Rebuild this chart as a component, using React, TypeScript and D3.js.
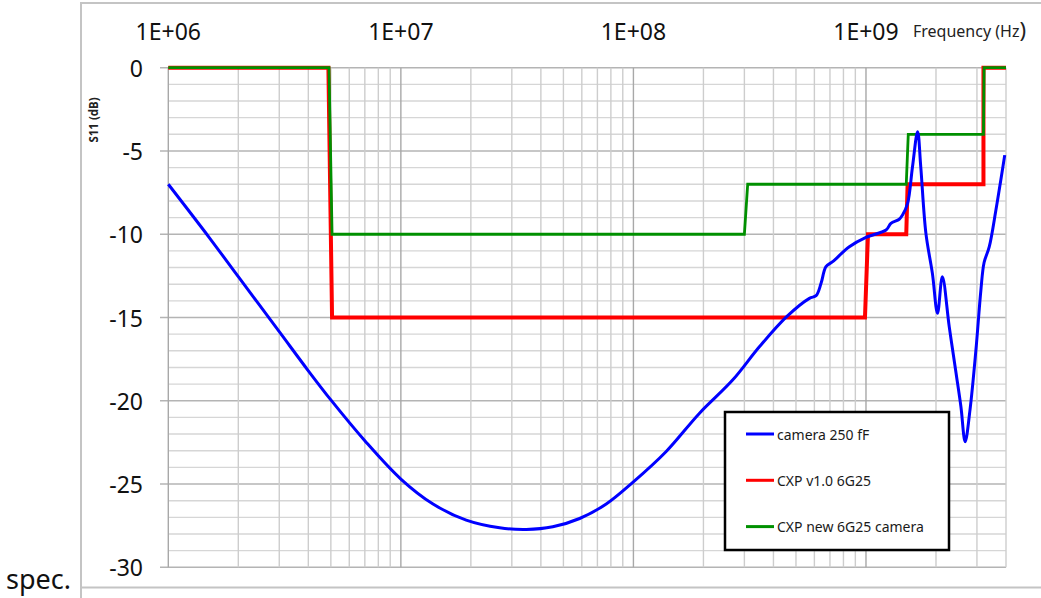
import React from "react";
import * as d3 from "d3";

// Frequency axis (Hz) and S11 axis (dB)
const FREQ_DOMAIN = [1e6, 4e9];
const FREQ_LABEL_TICKS = [1e6, 1e7, 1e8, 1e9];
const FREQ_LABELS = ["1E+06", "1E+07", "1E+08", "1E+09"];
const DB_TICKS = [0, -5, -10, -15, -20, -25, -30];

// camera 250 fF
const cameraFreq = [
  1e6, 1.5e6, 2e6, 3e6, 4e6, 5e6, 7e6, 1e7, 1.375e7,
  1.91e7, 2.66e7, 3.46e7, 4.5e7, 5.87e7, 7.64e7, 9.94e7, 1.38e8, 1.92e8, 2.67e8,
  3.48e8, 4.56e8, 5.71e8, 6.1e8, 6.41e8, 6.73e8, 7.19e8, 8.48e8, 1.0e9, 1.22e9,
  1.28e9, 1.39e9, 1.436e9, 1.51e9, 1.585e9, 1.667e9, 1.72e9, 1.81e9, 1.93e9, 2.03e9,
  2.13e9, 2.28e9, 2.44e9, 2.56e9, 2.67e9, 2.8e9, 2.97e9, 3.12e9, 3.22e9, 3.39e9,
  3.62e9, 3.8e9, 3.95e9,
];
const cameraS11 = [
  -7.0, -10.2, -12.55, -15.85, -18.2, -19.95, -22.4, -24.7, -26.2,
  -27.17, -27.63, -27.73, -27.57, -27.07, -26.2, -24.9, -23.06, -20.76, -18.76,
  -16.76, -14.95, -13.85, -13.69, -12.95, -11.95, -11.65, -10.75, -10.19, -9.75,
  -9.35, -9.1, -8.85, -8.15, -5.95, -3.84, -5.95, -9.95, -12.35, -14.75,
  -12.55, -15.55, -18.35, -20.36, -22.46, -20.56, -16.95, -13.35, -11.7, -10.75,
  -8.55, -6.74, -5.25,
];

// CXP v1.0 6G25 mask
const cxpV1Freq = [1e6, 4.88e6, 5.06e6, 0.99e9, 1.02e9, 1.49e9, 1.51e9, 3.2e9, 3.2e9, 4e9];
const cxpV1S11 = [0, 0, -15, -15, -10, -10, -7, -7, 0, 0];

// CXP new 6G25 camera mask
const cxpNewFreq = [1e6, 4.91e6, 5.06e6, 3.0e8, 3.1e8, 1.49e9, 1.52e9, 3.2e9, 3.22e9, 4e9];
const cxpNewS11 = [0, 0, -10, -10, -7, -7, -4, -4, 0, 0];

const SERIES = [
  { name: "camera 250 fF", color: "#0000ff" },
  { name: "CXP v1.0 6G25", color: "#ff0000" },
  { name: "CXP new 6G25 camera", color: "#009000" },
];

const FONT = "'Noto Sans', 'Open Sans', sans-serif";

export default function App() {
  const left = 168.3;
  const right = 1006;
  const top = 67.7;
  const bottom = 567.3;

  const x = d3.scaleLog().domain(FREQ_DOMAIN).range([left, right]);
  const y = d3.scaleLinear().domain([-30, 0]).range([bottom, top]);

  const line = d3
    .line<[number, number]>()
    .x((d) => x(d[0]))
    .y((d) => y(d[1]));
  const smooth = d3
    .line<[number, number]>()
    .x((d) => x(d[0]))
    .y((d) => y(d[1]))
    .curve(d3.curveCatmullRom.alpha(0.5));

  const zip = (a: number[], b: number[]) => a.map((v, i) => [v, b[i]] as [number, number]);

  // vertical grid: 1..9 per decade
  const vGrid: { f: number; major: boolean }[] = [];
  for (let dec = 1e6; dec <= 1e9; dec *= 10) {
    for (let k = 1; k <= 9; k++) {
      const f = dec * k;
      if (f <= FREQ_DOMAIN[1] * 1.0001) vGrid.push({ f, major: k === 1 });
    }
  }
  const hGrid = d3.range(-30, 1, 1);

  const legendX = 725;
  const legendY = 412;

  return (
    <svg
      width={1041}
      height={598}
      style={{ position: "fixed", left: 0, top: 0, background: "#fff" }}
    >
      <rect x={0} y={0} width={1041} height={598} fill="#fff" />
      {/* outer frame */}
      <path d="M81,600 L81,3 L1045,3 M81,587.5 L1045,587.5" fill="none" stroke="#c4c4c4" strokeWidth={2} />

      {/* horizontal grid */}
      {hGrid.map((v) => {
        const major = v % 5 === 0;
        return (
          <line
            key={"h" + v}
            x1={major ? 160 : left}
            x2={right}
            y1={y(v)}
            y2={y(v)}
            stroke={major ? "#b4b4b4" : "#d6d6d6"}
            strokeWidth={1.4}
          />
        );
      })}
      {/* vertical grid */}
      {vGrid.map(({ f, major }) => (
        <line
          key={"v" + f}
          x1={x(f)}
          x2={x(f)}
          y1={top}
          y2={bottom}
          stroke={major ? "#a8a8a8" : "#cdcdcd"}
          strokeWidth={1.4}
        />
      ))}

      {/* series */}
      <path d={line(zip(cxpV1Freq, cxpV1S11)) || ""} fill="none" stroke={SERIES[1].color} strokeWidth={4} />
      <path d={line(zip(cxpNewFreq, cxpNewS11)) || ""} fill="none" stroke={SERIES[2].color} strokeWidth={2.8} />
      <path
        d={smooth(zip(cameraFreq, cameraS11)) || ""}
        fill="none"
        stroke={SERIES[0].color}
        strokeWidth={3}
        strokeLinejoin="round"
      />

      {/* top frequency labels */}
      {FREQ_LABEL_TICKS.map((f, i) => (
        <text
          key={"xl" + f}
          x={x(f)}
          y={31}
          textAnchor="middle"
          dominantBaseline="central"
          fontFamily={FONT}
          fontSize={23}
          fill="#111"
        >
          {FREQ_LABELS[i]}
        </text>
      ))}
      <text x={913} y={37} fontFamily={FONT} fontSize={16} fill="#222">
        Frequency (Hz<tspan fontSize={22} dy={1}>)</tspan>
      </text>

      {/* dB labels */}
      {DB_TICKS.map((v) => (
        <text
          key={"yl" + v}
          x={143}
          y={y(v)}
          textAnchor="end"
          dominantBaseline="central"
          fontFamily={FONT}
          fontSize={23}
          fill="#111"
        >
          {v}
        </text>
      ))}
      <text
        transform="translate(98,120) rotate(-90)"
        textAnchor="middle"
        fontFamily={FONT}
        fontWeight="bold"
        fontSize={11.5}
        fill="#222"
      >
        S11 (dB)
      </text>

      {/* legend */}
      <rect
        x={legendX}
        y={legendY}
        width={224}
        height={138}
        fill="#fff"
        stroke="#000"
        strokeWidth={2.5}
      />
      {SERIES.map((s, i) => {
        const ly = legendY + 22 + i * 46.3;
        return (
          <g key={s.name}>
            <line x1={746} x2={774} y1={ly} y2={ly} stroke={s.color} strokeWidth={3} />
            <text x={777} y={ly} dominantBaseline="central" fontFamily={FONT} fontSize={14} fill="#1a1a1a">
              {s.name}
            </text>
          </g>
        );
      })}

      <text x={6} y={589} fontFamily={FONT} fontSize={27} fill="#111">
        spec.
      </text>
    </svg>
  );
}
